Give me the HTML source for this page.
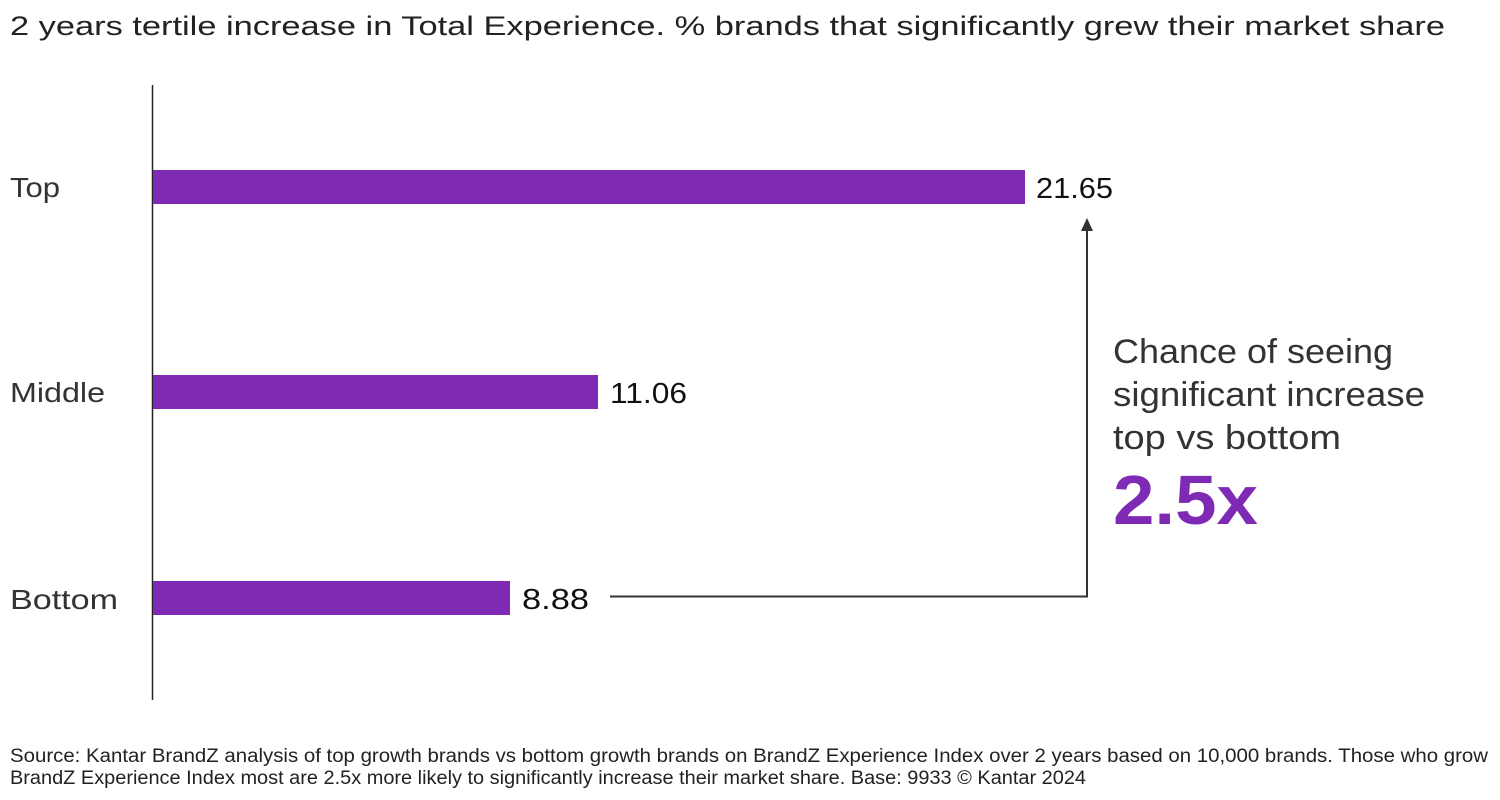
<!DOCTYPE html>
<html><head><meta charset="utf-8"><style>
html,body{margin:0;padding:0;background:#fff;}
svg{display:block;font-family:"Liberation Sans",sans-serif;}
</style></head><body>
<svg width="1500" height="800" viewBox="0 0 1500 800" xmlns="http://www.w3.org/2000/svg">
<text x="10" y="35" font-size="27" fill="#222" textLength="1435" lengthAdjust="spacingAndGlyphs">2 years tertile increase in Total Experience. % brands that significantly grew their market share</text>
<line x1="152.5" y1="85" x2="152.5" y2="700" stroke="#222" stroke-width="1.5"/>
<rect x="153" y="170" width="872" height="34" fill="#7f2ab5"/>
<rect x="153" y="375" width="445" height="34" fill="#7f2ab5"/>
<rect x="153" y="581" width="357" height="34" fill="#7f2ab5"/>
<g font-size="28" fill="#333">
<text x="10" y="197" textLength="50" lengthAdjust="spacingAndGlyphs">Top</text>
<text x="10" y="402" textLength="95" lengthAdjust="spacingAndGlyphs">Middle</text>
<text x="10" y="609" textLength="108" lengthAdjust="spacingAndGlyphs">Bottom</text>
</g>
<g font-size="29" fill="#111">
<text x="1036" y="198" textLength="77" lengthAdjust="spacingAndGlyphs">21.65</text>
<text x="610" y="403" textLength="77" lengthAdjust="spacingAndGlyphs">11.06</text>
<text x="522" y="609" textLength="67" lengthAdjust="spacingAndGlyphs">8.88</text>
</g>
<polyline points="610,596.5 1087,596.5 1087,228" fill="none" stroke="#333" stroke-width="2"/>
<polygon points="1087,218 1081,231 1093,231" fill="#333"/>
<g font-size="34" fill="#333">
<text x="1113" y="363" textLength="280" lengthAdjust="spacingAndGlyphs">Chance of seeing</text>
<text x="1113" y="406" textLength="312" lengthAdjust="spacingAndGlyphs">significant increase</text>
<text x="1113" y="449" textLength="228" lengthAdjust="spacingAndGlyphs">top vs bottom</text>
</g>
<text x="1113" y="524" font-size="70" font-weight="bold" fill="#7f2ab5" textLength="145" lengthAdjust="spacingAndGlyphs">2.5x</text>
<g font-size="19" fill="#222">
<text x="10" y="762" textLength="1478" lengthAdjust="spacingAndGlyphs">Source: Kantar BrandZ analysis of top growth brands vs bottom growth brands on BrandZ Experience Index over 2 years based on 10,000 brands. Those who grow</text>
<text x="10" y="784" textLength="1076" lengthAdjust="spacingAndGlyphs">BrandZ Experience Index most are 2.5x more likely to significantly increase their market share. Base: 9933 © Kantar 2024</text>
</g>
</svg>
</body></html>
